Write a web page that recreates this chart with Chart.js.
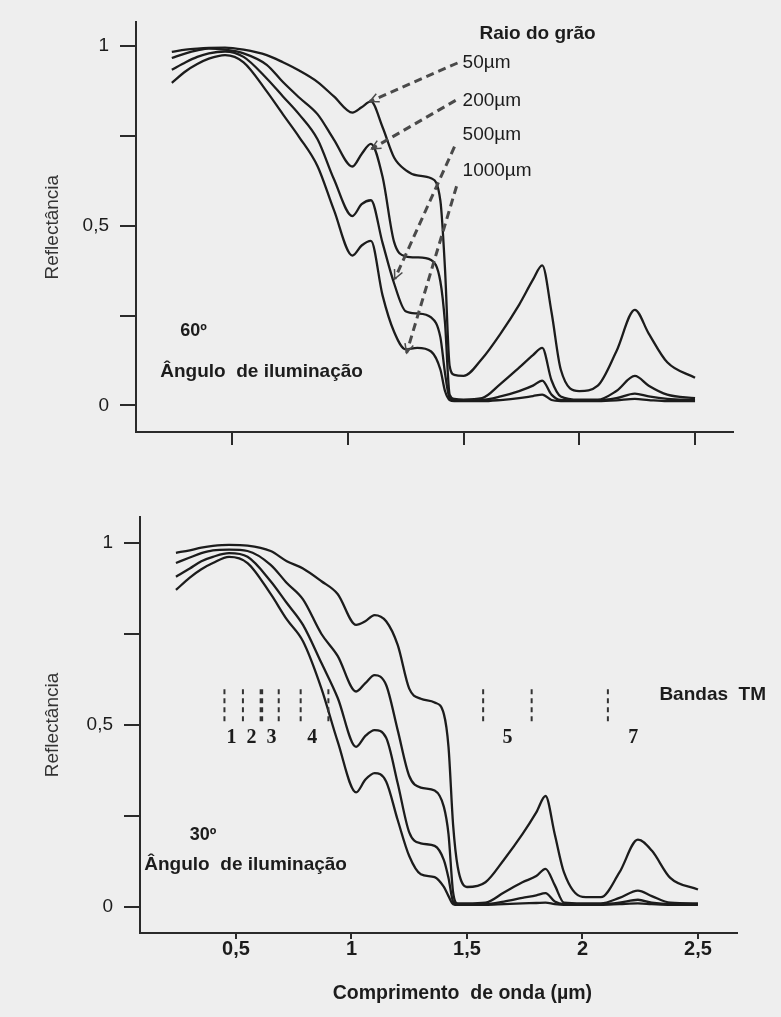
<!DOCTYPE html>
<html>
<head>
<meta charset="utf-8">
<script src="https://cdn.jsdelivr.net/npm/chart.js@4.4.1/dist/chart.umd.min.js"></script>
<style>
  body { margin: 0; background: #eeeeee; }
  #wrap { position: relative; width: 781px; height: 1017px; }
  canvas { position: absolute; left: 0; }
</style>
</head>
<body>
<div id="wrap">
  <canvas id="chart60" width="781" height="470" style="top:0"></canvas>
  <canvas id="chart30" width="781" height="547" style="top:470px"></canvas>
</div>
<script>
// wavelength grid (µm) shared by every curve
const wavelength = [0.24, 0.30, 0.35, 0.40, 0.47, 0.55, 0.65, 0.72, 0.79, 0.87, 0.94, 1.02, 1.06, 1.10, 1.15, 1.20, 1.25, 1.30, 1.36, 1.40, 1.42, 1.44, 1.46, 1.50, 1.58, 1.66, 1.74, 1.80, 1.84, 1.88, 1.92, 2.00, 2.08, 2.16, 2.24, 2.30, 2.38, 2.50];

// 60º illumination angle
const r60_50   = [0.984, 0.990, 0.993, 0.995, 0.996, 0.990, 0.975, 0.955, 0.932, 0.900, 0.860, 0.815, 0.830, 0.846, 0.775, 0.690, 0.655, 0.640, 0.632, 0.570, 0.380, 0.110, 0.085, 0.082, 0.130, 0.200, 0.280, 0.350, 0.390, 0.260, 0.100, 0.040, 0.055, 0.150, 0.266, 0.200, 0.120, 0.077];
const r60_200  = [0.967, 0.980, 0.988, 0.993, 0.990, 0.980, 0.948, 0.900, 0.857, 0.810, 0.740, 0.665, 0.700, 0.728, 0.637, 0.455, 0.415, 0.412, 0.405, 0.345, 0.230, 0.030, 0.018, 0.016, 0.020, 0.060, 0.105, 0.140, 0.160, 0.070, 0.025, 0.016, 0.016, 0.040, 0.082, 0.055, 0.030, 0.020];
const r60_500  = [0.934, 0.955, 0.970, 0.980, 0.985, 0.970, 0.910, 0.860, 0.810, 0.740, 0.630, 0.527, 0.560, 0.571, 0.453, 0.340, 0.262, 0.256, 0.245, 0.190, 0.090, 0.020, 0.015, 0.014, 0.015, 0.025, 0.040, 0.055, 0.069, 0.030, 0.015, 0.014, 0.014, 0.020, 0.033, 0.025, 0.018, 0.015];
const r60_1000 = [0.898, 0.930, 0.950, 0.965, 0.975, 0.955, 0.874, 0.810, 0.747, 0.665, 0.544, 0.417, 0.445, 0.458, 0.307, 0.205, 0.156, 0.160, 0.150, 0.100, 0.040, 0.015, 0.012, 0.012, 0.012, 0.015, 0.020, 0.026, 0.030, 0.015, 0.012, 0.012, 0.012, 0.014, 0.018, 0.015, 0.012, 0.012];

// 30º illumination angle
const r30_50   = [0.973, 0.980, 0.987, 0.992, 0.995, 0.993, 0.978, 0.950, 0.930, 0.895, 0.860, 0.775, 0.785, 0.802, 0.785, 0.720, 0.600, 0.572, 0.562, 0.530, 0.440, 0.225, 0.110, 0.055, 0.068, 0.130, 0.200, 0.260, 0.305, 0.200, 0.095, 0.028, 0.027, 0.095, 0.185, 0.155, 0.080, 0.048];
const r30_200  = [0.945, 0.960, 0.972, 0.980, 0.982, 0.978, 0.940, 0.890, 0.845, 0.750, 0.690, 0.592, 0.615, 0.637, 0.610, 0.486, 0.360, 0.328, 0.320, 0.275, 0.200, 0.040, 0.010, 0.010, 0.012, 0.040, 0.068, 0.085, 0.105, 0.060, 0.012, 0.010, 0.010, 0.025, 0.045, 0.030, 0.012, 0.010];
const r30_500  = [0.907, 0.930, 0.950, 0.962, 0.972, 0.962, 0.895, 0.835, 0.775, 0.670, 0.575, 0.440, 0.470, 0.486, 0.465, 0.340, 0.205, 0.175, 0.168, 0.129, 0.080, 0.015, 0.008, 0.008, 0.008, 0.015, 0.025, 0.032, 0.038, 0.015, 0.008, 0.008, 0.008, 0.012, 0.020, 0.012, 0.008, 0.008];
const r30_1000 = [0.871, 0.905, 0.928, 0.945, 0.962, 0.945, 0.860, 0.790, 0.730, 0.600, 0.455, 0.315, 0.350, 0.368, 0.345, 0.239, 0.140, 0.090, 0.082, 0.055, 0.030, 0.008, 0.006, 0.006, 0.006, 0.008, 0.010, 0.011, 0.012, 0.008, 0.006, 0.006, 0.006, 0.008, 0.010, 0.008, 0.006, 0.006];

const grainLabels = ['50µm', '200µm', '500µm', '1000µm'];
const xTicks = [0.5, 1, 1.5, 2, 2.5];
const xTickLabels = ['0,5', '1', '1,5', '2', '2,5'];
const yTicks = [0, 0.25, 0.5, 0.75, 1];
const yTickLabels = ['0', '', '0,5', '', '1'];

// Landsat TM band edges (µm) and band numbers
const tmBandEdges = [0.45, 0.53, 0.61, 0.685, 0.78, 0.90, 1.57, 1.78, 2.11];
const tmBandNumbers = ['1', '2', '3', '4', '5', '7'];
const tmBandNumberAt = [0.48, 0.567, 0.654, 0.83, 1.675, 2.22];

const SANS = "'Liberation Sans', Arial, sans-serif";
const INK = '#1c1c1c';

function toPoints(ys) {
  return wavelength.map((w, i) => ({ x: w, y: ys[i] }));
}

function curves(list) {
  return list.map((ys, i) => ({
    label: grainLabels[i],
    data: toPoints(ys),
    borderColor: INK,
    borderWidth: 2.3,
    pointRadius: 0,
    fill: false,
    cubicInterpolationMode: 'monotone'
  }));
}

function scales(o) {
  return {
    x: {
      type: 'linear', min: o.xmin, max: o.xmax,
      afterBuildTicks: s => { s.ticks = xTicks.map(v => ({ value: v })); },
      afterFit: s => { s.height = o.xh; },
      grid: { drawOnChartArea: false, drawTicks: true, tickLength: o.xtl, color: '#2a2a2a', lineWidth: 2 },
      border: { display: true, color: '#2a2a2a', width: 2 },
      ticks: {
        autoSkip: false, maxRotation: 0, padding: -2, color: INK,
        font: { family: SANS, size: 20, weight: 'bold' },
        callback: v => o.xLabels ? xTickLabels[xTicks.indexOf(v)] : ''
      }
    },
    y: {
      type: 'linear', min: o.ymin, max: o.ymax,
      afterBuildTicks: s => { s.ticks = yTicks.map(v => ({ value: v })); },
      afterFit: s => { s.width = o.yw; },
      grid: { drawOnChartArea: false, drawTicks: true, tickLength: 16, color: '#2a2a2a', lineWidth: 2 },
      border: { display: true, color: '#2a2a2a', width: 2 },
      ticks: {
        autoSkip: false, padding: 11, color: INK,
        font: { family: SANS, size: 19 },
        callback: v => yTickLabels[yTicks.indexOf(v)]
      },
      title: {
        display: true, text: 'Reflectância', color: '#333',
        font: { family: SANS, size: 19 },
        padding: { top: 41, bottom: 0 }
      }
    }
  };
}

function label(ctx, text, x, y, font, align) {
  ctx.save();
  ctx.font = font;
  ctx.fillStyle = INK;
  ctx.textAlign = align || 'left';
  ctx.textBaseline = 'middle';
  ctx.fillText(text, x, y);
  ctx.restore();
}

function dashedArrow(ctx, x1, y1, x2, y2) {
  ctx.save();
  ctx.strokeStyle = '#4a4a4a';
  ctx.lineWidth = 3;
  ctx.setLineDash([8, 5]);
  ctx.beginPath();
  ctx.moveTo(x1, y1);
  ctx.lineTo(x2, y2);
  ctx.stroke();
  ctx.setLineDash([]);
  ctx.lineWidth = 1.5;
  const a = Math.atan2(y2 - y1, x2 - x1), L = 10;
  ctx.beginPath();
  ctx.moveTo(x2 - L * Math.cos(a - 0.45), y2 - L * Math.sin(a - 0.45));
  ctx.lineTo(x2, y2);
  ctx.lineTo(x2 - L * Math.cos(a + 0.45), y2 - L * Math.sin(a + 0.45));
  ctx.stroke();
  ctx.restore();
}

const BOLD = 'bold 19px ' + SANS;

const notes60 = {
  id: 'notes60',
  afterDatasetsDraw(chart) {
    const { ctx, scales: { x, y } } = chart;
    const px = v => x.getPixelForValue(v), py = v => y.getPixelForValue(v);
    // arrows from grain-size labels to their curves
    const from = [[1.474, 0.953], [1.466, 0.849], [1.461, 0.72], [1.47, 0.61]];
    const to = [[1.095, 0.846], [1.103, 0.714], [1.203, 0.352], [1.254, 0.146]];
    from.forEach((f, i) => dashedArrow(ctx, px(f[0]), py(f[1]), px(to[i][0]), py(to[i][1])));
    label(ctx, 'Raio do grão', px(1.82), py(1.035), BOLD, 'center');
    const ly = [0.953, 0.849, 0.753, 0.652];
    grainLabels.forEach((t, i) => label(ctx, t, px(1.496), py(ly[i]), '19px ' + SANS));
    label(ctx, '60º', px(0.276), py(0.206), 'bold 18px ' + SANS);
    label(ctx, 'Ângulo  de iluminação', px(0.19), py(0.093), BOLD);
  }
};

const notes30 = {
  id: 'notes30',
  afterDatasetsDraw(chart) {
    const { ctx, scales: { x, y } } = chart;
    const px = v => x.getPixelForValue(v), py = v => y.getPixelForValue(v);
    ctx.save();
    ctx.strokeStyle = '#333';
    ctx.setLineDash([5, 4]);
    tmBandEdges.forEach((e, i) => {
      ctx.lineWidth = i === 2 ? 3.5 : 2;
      ctx.beginPath();
      ctx.moveTo(px(e), py(0.598));
      ctx.lineTo(px(e), py(0.505));
      ctx.stroke();
    });
    ctx.restore();
    tmBandNumbers.forEach((t, i) =>
      label(ctx, t, px(tmBandNumberAt[i]), py(0.465), 'bold 20px "Liberation Serif", "DejaVu Serif", serif', 'center'));
    label(ctx, 'Bandas  TM', px(2.333), py(0.583), BOLD);
    label(ctx, '30º', px(0.3), py(0.198), 'bold 18px ' + SANS);
    label(ctx, 'Ângulo  de iluminação', px(0.103), py(0.116), BOLD);
    // x axis title
    label(ctx, 'Comprimento  de onda (µm)', px(1.48), chart.height - 23, 'bold 19.5px ' + SANS, 'center');
  }
};

new Chart(document.getElementById('chart60'), {
  type: 'line',
  data: { datasets: curves([r60_50, r60_200, r60_500, r60_1000]) },
  options: {
    responsive: false, animation: false,
    layout: { padding: { top: 17, right: 48, left: 0, bottom: 0 } },
    plugins: { legend: { display: false }, tooltip: { enabled: false } },
    scales: scales({ xmin: 0.0853, xmax: 2.664, ymin: -0.074, ymax: 1.066, xh: 38, yw: 136, xtl: 13, xLabels: false })
  },
  plugins: [notes60]
});

new Chart(document.getElementById('chart30'), {
  type: 'line',
  data: { datasets: curves([r30_50, r30_200, r30_500, r30_1000]) },
  options: {
    responsive: false, animation: false,
    layout: { padding: { top: 47, right: 44, left: 0, bottom: 0 } },
    plugins: { legend: { display: false }, tooltip: { enabled: false } },
    scales: scales({ xmin: 0.0844, xmax: 2.669, ymin: -0.0714, ymax: 1.0714, xh: 84, yw: 140, xtl: 6, xLabels: true })
  },
  plugins: [notes30]
});
</script>
</body>
</html>
